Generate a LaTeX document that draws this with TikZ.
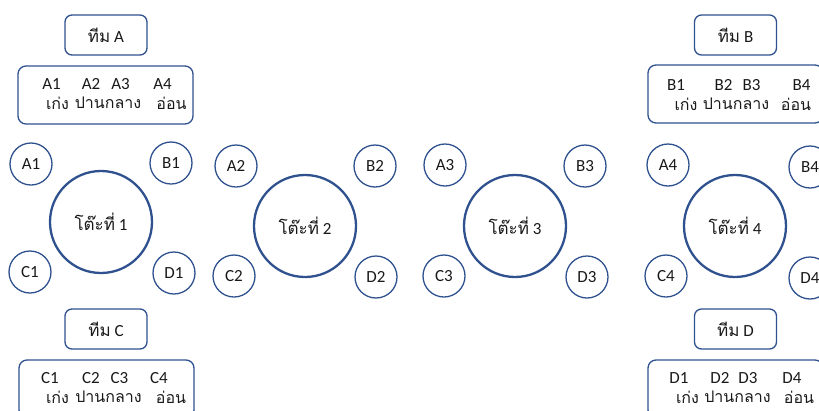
\documentclass[tikz,border=0pt]{standalone}
\usepackage{fontspec}
\setmainfont{Carlito}
\newfontfamily\thaifont[Script=Thai]{Loma}
\definecolor{ol}{RGB}{47,82,143}
\definecolor{tx}{RGB}{25,25,25}
\begin{document}
\begin{tikzpicture}[x=1pt,y=-1pt,
  every node/.style={font=\fontsize{17}{19}\selectfont, text=tx},
  teambox/.style={draw=ol, line width=1.3pt, rounded corners=7pt, minimum width=82pt, minimum height=40pt},
  memberbox/.style={draw=ol, line width=1.3pt, rounded corners=8pt, minimum width=175pt, minimum height=58pt},
  seat/.style={circle, draw=ol, line width=1.3pt, minimum size=42pt, inner sep=0pt},
  tablecircle/.style={circle, draw=ol, line width=2.3pt, minimum size=102pt, inner sep=0pt},
  lbl/.style={inner sep=0pt},
  thlbl/.style={inner sep=0pt, font=\fontsize{16}{18}\selectfont\thaifont}]
\useasboundingbox (0,0) rectangle (819,410);
\clip (0,0) rectangle (819,410);
% team boxes
\node[teambox] (tA) at (106,35) {{\thaifont ทีม} A};
\node[teambox] (tB) at (735.5,35) {{\thaifont ทีม} B};
\node[teambox] (tC) at (106,329) {{\thaifont ทีม} C};
\node[teambox] (tD) at (735.5,329) {{\thaifont ทีม} D};
% member boxes
\node[memberbox] (mA) at (105.5,95) {};
\node[memberbox] (mB) at (735.5,94) {};
\node[memberbox] (mC) at (106.5,389) {};
\node[memberbox] (mD) at (735.5,389) {};
% member labels
\foreach \t/\ya/\xa/\xb/\xc/\xd/\xe/\xf/\xg in {A/84/51.5/91/120.5/162.5/57.5/108/171.5,
  B/85/676/723.5/751.5/801.5/686/736/796,
  C/378/50/91/119.5/159/57.5/108.5/171,
  D/378/679/720/748/792/687.5/737.5/799}{
  \node[lbl] (\t l1) at (\xa,\ya) {\t1};
  \node[lbl] (\t l2) at (\xb,\ya) {\t2};
  \node[lbl] (\t l3) at (\xc,\ya) {\t3};
  \node[lbl] (\t l4) at (\xd,\ya) {\t4};
  \node[thlbl] (\t s1) at (\xe,\ya+19) {เก่ง};
  \node[thlbl] (\t s2) at (\xf,\ya+19) {ปานกลาง};
  \node[thlbl] (\t s3) at (\xg,\ya+19) {อ่อน};
}
% tables
\node[tablecircle] (T1) at (101,222) {{\thaifont โต๊ะที่} 1};
\node[tablecircle] (T2) at (305,226) {{\thaifont โต๊ะที่} 2};
\node[tablecircle] (T3) at (515,226) {{\thaifont โต๊ะที่} 3};
\node[tablecircle] (T4) at (735,226) {{\thaifont โต๊ะที่} 4};
% seats
\foreach \n/\x/\y in {A1/31/164, B1/171/163, C1/30/272, D1/174/273,
  A2/236/166, B2/375/166, C2/234/276, D2/376/277,
  A3/445/165, B3/585/166, C3/444/276, D3/587/277,
  A4/668/165, B4/810/167, C4/666/276, D4/810/278}{
  \node[seat] (s\n) at (\x,\y) {\n};
}
\end{tikzpicture}
\end{document}
